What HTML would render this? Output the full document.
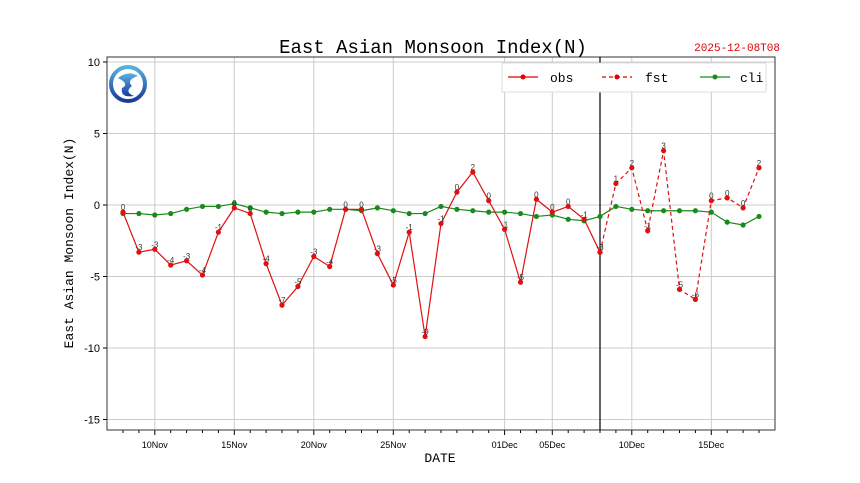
<!DOCTYPE html>
<html><head><meta charset="utf-8"><style>
html,body{margin:0;padding:0;background:#fff;}
svg{display:block;font-family:"Liberation Mono","DejaVu Sans Mono",monospace;}
</style></head><body>
<svg id="chart" width="860" height="483" viewBox="0 0 860 483">
<defs><linearGradient id="lg" x1="0" y1="0" x2="0" y2="1"><stop offset="0" stop-color="#5ab0e0"/><stop offset="1" stop-color="#1a3a9a"/></linearGradient></defs>
<g id="grid"></g>
<g id="axes"></g>
<g id="series"></g>
<text x="433" y="53" text-anchor="middle" font-size="19">East Asian Monsoon Index(N)</text>
<text x="780" y="51" text-anchor="end" font-size="11" fill="#e00000">2025-12-08T08</text>
<text x="440" y="462" text-anchor="middle" font-size="13">DATE</text>
<text transform="translate(73,243) rotate(-90)" text-anchor="middle" font-size="13">East Asian Monsoon Index(N)</text>
<g>
<circle cx="128" cy="84" r="17" fill="none" stroke="url(#lg)" stroke-width="4"/>
<path d="M118 78 Q128 70 138 76 Q126 80 132 86 Q124 92 134 96 Q120 98 122 88 Q130 84 118 78Z" fill="url(#lg)"/>
</g>
<g>
<rect x="502" y="63" width="264" height="29" fill="#fff" stroke="#ddd"/>
<line x1="508" y1="77" x2="538" y2="77" stroke="#e00000" stroke-width="1.2"/><circle cx="523" cy="77" r="2.5" fill="#e00000"/>
<text x="550" y="82" font-size="13">obs</text>
<line x1="602" y1="77" x2="632" y2="77" stroke="#e00000" stroke-width="1.2" stroke-dasharray="4,3"/><circle cx="617" cy="77" r="2.5" fill="#e00000"/>
<text x="645" y="82" font-size="13">fst</text>
<line x1="700" y1="77" x2="730" y2="77" stroke="#1a8a1a" stroke-width="1.2"/><circle cx="715" cy="77" r="2.5" fill="#1a8a1a"/>
<text x="740" y="82" font-size="13">cli</text>
</g>
</svg>
<script>
const obsVals=[-0.5,-3.3,-3.1,-4.2,-3.9,-4.9,-1.9,-0.2,-0.6,-4.1,-7.0,-5.7,-3.6,-4.3,-0.3,-0.3,-3.4,-5.6,-1.9,-9.2,-1.3,0.9,2.3,0.3,-1.7,-5.4,0.4,-0.5,-0.1,-1.0,-3.3];
const fstVals=[-3.3,1.5,2.6,-1.8,3.8,-5.9,-6.6,0.3,0.5,-0.2,2.6];
const fstStart=30;
const cliVals=[-0.6,-0.6,-0.7,-0.6,-0.3,-0.1,-0.1,0.1,-0.2,-0.5,-0.6,-0.5,-0.5,-0.3,-0.3,-0.4,-0.2,-0.4,-0.6,-0.6,-0.1,-0.3,-0.4,-0.5,-0.5,-0.6,-0.8,-0.7,-1.0,-1.1,-0.8,-0.1,-0.3,-0.4,-0.4,-0.4,-0.4,-0.5,-1.2,-1.4,-0.8];
const yTicks=[10,5,0,-5,-10,-15];
const xTickIdx=[2,7,12,17,24,27,32,37];
const xTickLabels=["10Nov","15Nov","20Nov","25Nov","01Dec","05Dec","10Dec","15Dec"];
const nowIdx=30;
const L=107,R=775,T=57,B=430;
const X=i=>123+i*15.9;
const Y=v=>205-v*14.3;
const NS="http://www.w3.org/2000/svg";
function mk(tag,attrs,parent,txt){const e=document.createElementNS(NS,tag);for(const k in attrs)e.setAttribute(k,attrs[k]);if(txt!==undefined)e.textContent=txt;parent.appendChild(e);return e;}
const grid=document.getElementById('grid'),axes=document.getElementById('axes'),ser=document.getElementById('series');
yTicks.forEach(v=>{
 const g=mk('line',{x1:L,x2:R,y1:Y(v),y2:Y(v),stroke:'#ccc','stroke-width':1},grid);
 
 
 mk('line',{x1:L-4,x2:L,y1:Y(v),y2:Y(v),stroke:'#000'},axes);
 const t=mk('text',{x:L-7,y:Y(v)+4,'text-anchor':'end','font-size':11,'font-family':'Liberation Sans, sans-serif'},axes,String(v));
 
 
});
xTickIdx.forEach((d,k)=>{
 const g=mk('line',{x1:X(d),x2:X(d),y1:T,y2:B,stroke:'#ccc','stroke-width':1},grid);
 
 
 const t=mk('text',{x:X(d),y:448,'text-anchor':'middle','font-size':9,'font-family':'Liberation Sans, sans-serif'},axes,xTickLabels[k]);
 
 
});
for(let i=0;i<cliVals.length;i++){mk('line',{x1:X(i),x2:X(i),y1:B,y2:B+(xTickIdx.includes(i)?5:3),stroke:'#000'},axes);}
const frame=mk('rect',{x:L,y:T,width:R-L,height:B-T,fill:'none',stroke:'#333'},axes);


const vl=mk('line',{x1:X(nowIdx),x2:X(nowIdx),y1:T,y2:B,stroke:'#000','stroke-width':1.2},ser);


function series(vals,off,color,dash,name,labels){
 const pts=vals.map((v,i)=>X(i+off)+','+Y(v)).join(' ');
 const pl=mk('polyline',{points:pts,fill:'none',stroke:color,'stroke-width':1.2,'stroke-dasharray':dash||'none'},ser);
 
 
 vals.forEach((v,i)=>{
  const c=mk('circle',{cx:X(i+off),cy:Y(v),r:2.6,fill:color},ser);
  
  
  if(labels){
   const t=mk('text',{x:X(i+off),y:Y(v)-2,'text-anchor':'middle','font-size':8,fill:'#333','font-family':'Liberation Sans, sans-serif'},ser,String(Math.trunc(v)===0?0:Math.trunc(v)));
   
   
  }
 });
}
series(cliVals,0,'#1a8a1a',null,'cli',false);
series(obsVals,0,'#e01010',null,'obs',true);
series(fstVals,fstStart,'#e01010','4,3','fst',true);
</script>
</body></html>
